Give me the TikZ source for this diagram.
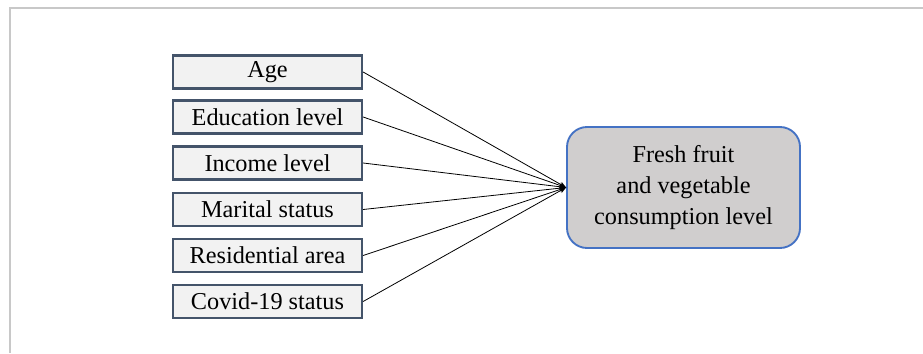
\documentclass[tikz,border=0pt]{standalone}
\usepackage{fontspec}
\setmainfont{Liberation Serif}
\usetikzlibrary{positioning,arrows.meta}

\definecolor{boxline}{HTML}{44546A}
\definecolor{boxfill}{HTML}{F2F2F2}
\definecolor{outline}{HTML}{4472C4}
\definecolor{outfill}{HTML}{D0CECE}
\definecolor{frameline}{HTML}{C8C8C8}

\tikzset{
  factor/.style={draw=boxline, fill=boxfill, line width=1.7pt, minimum width=141.75pt, minimum height=24.75pt, inner sep=0pt, font=\fontsize{18.2}{21}\selectfont},
  result/.style={draw=outline, fill=outfill, line width=1.4pt, rounded corners=15pt, minimum width=174.75pt, minimum height=90.75pt, align=center, font=\fontsize{18.2}{23.5}\selectfont},
  link/.style={line width=0.6pt, -{Stealth[length=5pt,width=4pt]}}
}

\begin{document}
\begin{tikzpicture}[x=0.75pt, y=-0.75pt]
    \useasboundingbox (0,0) rectangle (923,353);

    % Frame lines at top and left
    \draw[frameline, line width=1.5pt] (9.5,353) -- (9.5,8.5) -- (923,8.5);

    % Define the positions of the boxes
    \coordinate (agePos) at (267.5, 72);
    \coordinate (eduPos) at (267.5, 117);
    \coordinate (incPos) at (267.5, 163);
    \coordinate (marPos) at (267.5, 209.5);
    \coordinate (resPos) at (267.5, 255.5);
    \coordinate (covPos) at (267.5, 301.5);
    \coordinate (outPos) at (683.5, 187.5);

    % Draw the boxes
    \node[factor] (age) at (agePos) {Age};
    \node[factor] (edu) at (eduPos) {Education level};
    \node[factor] (inc) at (incPos) {Income level};
    \node[factor] (mar) at (marPos) {Marital status};
    \node[factor] (res) at (resPos) {Residential area};
    \node[factor] (cov) at (covPos) {Covid-19 status};
    \node[result] (out) at (outPos) {Fresh fruit\\and vegetable\\consumption level};

    % Draw the lines
    \draw[link] (age.east) -- (out.west);
    \draw[link] (edu.east) -- (out.west);
    \draw[link] (inc.east) -- (out.west);
    \draw[link] (mar.east) -- (out.west);
    \draw[link] (res.east) -- (out.west);
    \draw[link] (cov.east) -- (out.west);
\end{tikzpicture}
\end{document}
